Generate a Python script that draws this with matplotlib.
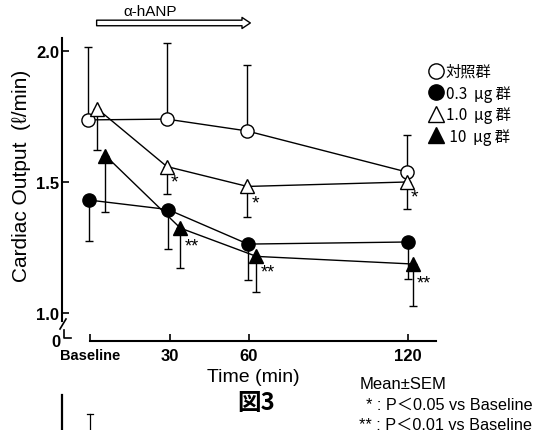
import matplotlib
matplotlib.use("Agg")
import matplotlib.pyplot as plt
from matplotlib.lines import Line2D

# ---------------- data ----------------
times = [0, 30, 60, 120]
time_labels = ["Baseline", "30", "60", "120"]

ctrl_mean = [1.737, 1.740, 1.695, 1.538]
ctrl_sem = [0.278, 0.290, 0.252, 0.142]

d03_mean = [1.431, 1.395, 1.263, 1.271]
d03_sem = [0.156, 0.151, 0.137, 0.141]

d10_mean = [1.780, 1.559, 1.483, 1.500]
d10_sem = [0.158, 0.105, 0.117, 0.103]

d100_mean = [1.601, 1.324, 1.216, 1.187]
d100_sem = [0.216, 0.152, 0.136, 0.160]

sig_1 = ["", "*", "*", "*"]        # 1.0 ug group
sig_10 = ["", "**", "**", "**"]    # 10 ug group

legend_labels = ["対照群", "0.3  μg 群", "1.0  μg 群", " 10  μg 群"]
ytick_vals = [1.0, 1.5, 2.0]
ytick_labels = ["1.0", "1.5", "2.0"]

# ---------------- fonts ----------------
SANS = ["Liberation Sans", "DejaVu Sans"]
CJK = ["Noto Sans CJK JP", "DejaVu Sans"]
MIX = ["Liberation Sans", "Noto Sans CJK JP"]

W, H = 543, 431
fig = plt.figure(figsize=(W / 100, H / 100), dpi=100)
fig.patch.set_facecolor("white")


def fx(px):
    return px / W


def fy(py):
    return 1 - py / H


ax = fig.add_axes([fx(62), fy(342), fx(445) - fx(62), fy(39) - fy(342)])
ax.set_xlim(-10.57, 133.96)
ax.set_ylim(0.8931, 2.0496)

for s in ["top", "right"]:
    ax.spines[s].set_visible(False)
ax.spines["left"].set_bounds(0.97, 2.0496)
ax.spines["bottom"].set_bounds(0, 130.5)
ax.spines["left"].set_linewidth(1.5)
ax.spines["bottom"].set_linewidth(1.5)

lw = 1.0
ms = 9.5
ecfg = dict(capsize=3, elinewidth=lw, capthick=lw, ecolor="black")

offs_ctrl = [-0.8, -1.0, -0.8, -0.4]
offs_03 = [-0.3, -0.6, -0.4, 0.0]
offs_10 = [2.7, -1.0, -0.6, -0.5]
offs_100 = [5.8, 4.1, 2.8, 1.7]

x_ctrl = [t + o for t, o in zip(times, offs_ctrl)]
x_03 = [t + o for t, o in zip(times, offs_03)]
x_10 = [t + o for t, o in zip(times, offs_10)]
x_100 = [t + o for t, o in zip(times, offs_100)]

# error bars
ax.errorbar(x_ctrl, ctrl_mean, yerr=[[0] * 4, ctrl_sem], fmt="none", **ecfg)
ax.errorbar(x_03, d03_mean, yerr=[d03_sem, [0] * 4], fmt="none", **ecfg)
ax.errorbar(x_10, d10_mean, yerr=[d10_sem, [0] * 4], fmt="none", **ecfg)
ax.errorbar(x_100, d100_mean, yerr=[d100_sem, [0] * 4], fmt="none", **ecfg)

ax.plot(x_ctrl, ctrl_mean, "-", color="black", lw=lw, marker="o", ms=ms,
        mfc="white", mec="black", mew=1.0, zorder=4)
ax.plot(x_10, d10_mean, "-", color="black", lw=lw, marker="^", ms=ms + 1,
        mfc="white", mec="black", mew=1.0, zorder=4)
ax.plot(x_03, d03_mean, "-", color="black", lw=lw, marker="o", ms=ms,
        mfc="black", mec="black", zorder=5)
ax.plot(x_100, d100_mean, "-", color="black", lw=lw, marker="^", ms=ms + 1,
        mfc="black", mec="black", zorder=5)

# significance marks
for x, m, s, lab in zip(x_10, d10_mean, d10_sem, sig_1):
    if lab:
        ax.annotate(lab, (x, m - s * 0.55), xytext=(3, 0), textcoords="offset points",
                    ha="left", va="center", fontsize=14, family=SANS)
for x, m, s, lab in zip(x_100, d100_mean, d100_sem, sig_10):
    if lab:
        ax.annotate(lab, (x, m - s * 0.45), xytext=(3, 0), textcoords="offset points",
                    ha="left", va="center", fontsize=13, family=SANS)

# ticks
ax.set_yticks(ytick_vals)
ax.set_yticklabels(ytick_labels, family=SANS, fontsize=12, fontweight="bold")
ax.tick_params(axis="y", direction="in", length=5, width=1.2, pad=2)
ax.set_xticks(times)
ax.set_xticklabels(time_labels, family=SANS, fontsize=12, fontweight="bold")
ax.get_xticklabels()[0].set_fontsize(10.5)
ax.tick_params(axis="x", direction="in", length=5, width=1.2, pad=5)

fig.text(fx(22), fy(176), "Cardiac Output  (ℓ/min)", family=SANS, fontsize=15,
         rotation=90, ha="center", va="center")
ax.set_xlabel("Time (min)", family=SANS, fontsize=14, labelpad=4)

# axis break decorations
tf = fig.transFigure
fig.add_artist(Line2D([fx(60), fx(66)], [fy(330), fy(320)], color="black", lw=1.2, transform=tf))
fig.add_artist(Line2D([fx(64), fx(64), fx(71)], [fy(331), fy(339), fy(339)], color="black", lw=1.2, transform=tf))
fig.text(fx(56), fy(343), "0", family=SANS, fontsize=12, fontweight="bold", ha="center", va="center")

# hollow arrow for infusion
ax.annotate("", xy=(60.5, 2.107), xytext=(2.5, 2.107), xycoords="data",
            arrowprops=dict(arrowstyle="simple,head_length=0.6,head_width=0.8,tail_width=0.4",
                            fc="white", ec="black", lw=1.0, shrinkA=0, shrinkB=0),
            annotation_clip=False)
ax.text(22.5, 2.152, "α-hANP", family=SANS, fontsize=11, ha="center", va="center", clip_on=False)

# legend
handles = [
    Line2D([], [], ls="none", marker="o", ms=11, mfc="white", mec="black", mew=1.0),
    Line2D([], [], ls="none", marker="o", ms=11, mfc="black", mec="black"),
    Line2D([], [], ls="none", marker="^", ms=12, mfc="white", mec="black", mew=1.0),
    Line2D([], [], ls="none", marker="^", ms=12, mfc="black", mec="black"),
]
leg = fig.legend(handles, legend_labels, loc="upper left", bbox_to_anchor=(fx(429), fy(64)),
                 frameon=False, handlelength=0.9, handletextpad=0.2, labelspacing=0.3,
                 borderpad=0, borderaxespad=0, prop=dict(family=CJK, size=11))

# notes
fig.text(fx(256), fy(403), "図3", family=CJK, fontsize=17, fontweight="bold", ha="center", va="center")
fig.text(fx(360), fy(385), "Mean±SEM", family=SANS, fontsize=12, ha="left", va="center")
fig.text(fx(366), fy(405), "* : P＜0.05 vs Baseline", family=MIX,
         fontsize=11.7, ha="left", va="center")
fig.text(fx(359), fy(425), "** : P＜0.01 vs Baseline", family=MIX,
         fontsize=11.7, ha="left", va="center")

# fragment of next figure on the scanned page
fig.add_artist(Line2D([fx(62), fx(62)], [fy(396), fy(431)], color="black", lw=1.6, transform=tf))
fig.add_artist(Line2D([fx(90), fx(90)], [fy(415), fy(431)], color="black", lw=0.9, transform=tf))
fig.add_artist(Line2D([fx(87), fx(93)], [fy(415), fy(415)], color="black", lw=0.9, transform=tf))

fig.savefig("out.png", dpi=100, facecolor="white")
